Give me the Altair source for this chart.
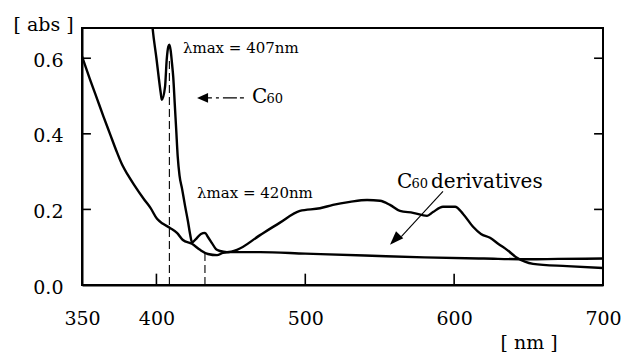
import altair as alt
import pandas as pd

# ---------------- data ----------------
c60_x = [396.5, 397.5, 400.0, 402.9, 403.6, 405.8, 406.9, 408.0, 408.7, 409.5,
         410.5, 411.3, 412.3, 413.3, 414.3, 415.5, 417.2, 419.2, 421.2, 422.6,
         423.9, 427.3, 429.9, 432.6, 434.6, 437.3, 440.0, 442.7, 447.4, 454.1,
         469.6, 483.0, 496.4, 509.9, 518.6, 530.0, 541.5, 550.2, 556.9, 563.6,
         572.4, 581.8, 585.8, 592.5, 600.6, 606.0, 612.7, 618.0, 624.1, 630.0,
         635.5, 642.2, 653.0, 675.8, 700.0]
c60_y = [0.72, 0.677, 0.600, 0.508, 0.490, 0.525, 0.596, 0.631, 0.636, 0.622,
         0.585, 0.550, 0.480, 0.410, 0.340, 0.290, 0.255, 0.210, 0.168, 0.135,
         0.113, 0.125, 0.135, 0.138, 0.127, 0.111, 0.095, 0.090, 0.087, 0.093,
         0.132, 0.165, 0.196, 0.203, 0.212, 0.220, 0.225, 0.223, 0.212, 0.196,
         0.191, 0.183, 0.193, 0.207, 0.207, 0.188, 0.154, 0.135, 0.125, 0.108,
         0.093, 0.072, 0.056, 0.050, 0.045]

deriv_x = [350.0, 355.0, 360.0, 364.5, 368.8, 373.0, 377.0, 381.0, 385.0, 392.0,
           396.0, 400.4, 404.4, 409.1, 413.8, 417.8, 423.9, 429.3, 434.6, 440.7,
           444.7, 449.4, 469.6, 500.0, 540.0, 580.0, 620.0, 650.0, 670.0, 700.0]
deriv_y = [0.605, 0.548, 0.494, 0.445, 0.400, 0.356, 0.318, 0.290, 0.265, 0.225,
           0.204, 0.175, 0.162, 0.151, 0.138, 0.119, 0.109, 0.093, 0.082, 0.079,
           0.085, 0.087, 0.087, 0.083, 0.078, 0.073, 0.070, 0.068, 0.069, 0.070]

x_ticks = [350, 400, 500, 600, 700]
y_ticks = [0.0, 0.2, 0.4, 0.6]
inner_x_ticks = [400, 500, 600]
inner_y_ticks = [0.2, 0.4, 0.6]

peak_x = [408.7, 432.6]
peak_top = [0.60, 0.085]
peak_labels = ["λmax = 407nm", "λmax = 420nm"]
peak_label_x = [417.8, 427.3]
peak_label_y = [0.628, 0.244]

FONT = "DejaVu Serif"
X0, X1 = 350, 700
Y0, Y1 = 0.0, 0.68

xs = alt.Scale(domain=[X0, X1], nice=False, zero=False)
ys = alt.Scale(domain=[Y0, Y1], nice=False, zero=False)

curves = pd.concat([
    pd.DataFrame({"wl": c60_x, "abs": c60_y, "series": "C60"}),
    pd.DataFrame({"wl": deriv_x, "abs": deriv_y, "series": "C60 derivatives"}),
])

lines = alt.Chart(curves).mark_line(
    color="black", strokeWidth=2.4, clip=True, interpolate="monotone"
).encode(
    x=alt.X("wl:Q", scale=xs, axis=alt.Axis(
        values=x_ticks, format="d", ticks=False, grid=False,
        domainColor="black", domainWidth=2,
        labelFont=FONT, labelFontSize=19, labelColor="black",
        labelPadding=33, labelBaseline="middle", labelFlush=False,
        title="[ nm ]", titleFont=FONT, titleFontSize=19, titleFontWeight="normal",
        titleColor="black", titleAlign="left", titleBaseline="middle",
        titleX=418, titleY=57)),
    y=alt.Y("abs:Q", scale=ys, axis=alt.Axis(
        values=y_ticks, format=".1f", ticks=False, grid=False,
        domainColor="black", domainWidth=2,
        labelFont=FONT, labelFontSize=19, labelColor="black",
        labelPadding=19, labelBaseline="middle", labelFlush=False, labelOffset=2,
        title="[ abs ]", titleFont=FONT, titleFontSize=19, titleFontWeight="normal",
        titleColor="black", titleAngle=0, titleAlign="left", titleBaseline="middle",
        titleX=-69, titleY=-4)),
    detail="series:N",
)

# inward ticks
tick_rows = []
for v in inner_x_ticks:
    tick_rows.append({"x": v, "x2": v, "y": Y0, "y2": Y0 + 0.03})
for v in inner_y_ticks:
    tick_rows.append({"x": X0, "x2": X0 + 6, "y": v, "y2": v})
    tick_rows.append({"x": X1 - 6, "x2": X1, "y": v, "y2": v})
ticks = alt.Chart(pd.DataFrame(tick_rows)).mark_rule(color="black", strokeWidth=1.6).encode(
    x=alt.X("x:Q", scale=xs), x2="x2:Q", y=alt.Y("y:Q", scale=ys), y2="y2:Q")

# dashed peak markers
peaks = alt.Chart(pd.DataFrame({"x": peak_x, "top": peak_top, "bot": [0.0, 0.0]})).mark_rule(
    color="black", strokeWidth=1.1, strokeDash=[8, 4]
).encode(x=alt.X("x:Q", scale=xs), y=alt.Y("bot:Q", scale=ys), y2="top:Q")

peak_text = alt.Chart(pd.DataFrame({"x": peak_label_x, "y": peak_label_y, "t": peak_labels})).mark_text(
    font=FONT, fontSize=15, align="left", baseline="middle", color="black"
).encode(x=alt.X("x:Q", scale=xs), y=alt.Y("y:Q", scale=ys), text="t:N")

# C60 label with arrow
c60_arrow_line = alt.Chart(pd.DataFrame({"x": [434.6], "x2": [460.2], "y": [0.495]})).mark_rule(
    color="black", strokeWidth=1.2, strokeDash=[4, 4, 3, 4, 14, 3]
).encode(x=alt.X("x:Q", scale=xs), x2="x2:Q", y=alt.Y("y:Q", scale=ys))
c60_head = alt.Chart(pd.DataFrame({"x": [431.4], "y": [0.495]})).mark_point(
    shape="M0,-1L0.8,0.8L-0.8,0.8Z", size=150, filled=True, color="black", opacity=1, angle=270
).encode(x=alt.X("x:Q", scale=xs), y=alt.Y("y:Q", scale=ys))
c60_C = alt.Chart(pd.DataFrame({"x": [464.2], "y": [0.482], "t": ["C"]})).mark_text(
    font=FONT, fontSize=20, align="left", baseline="alphabetic", color="black"
).encode(x=alt.X("x:Q", scale=xs), y=alt.Y("y:Q", scale=ys), text="t:N")
c60_sub = alt.Chart(pd.DataFrame({"x": [474.0], "y": [0.482], "t": ["60"]})).mark_text(
    font=FONT, fontSize=13, align="left", baseline="alphabetic", color="black"
).encode(x=alt.X("x:Q", scale=xs), y=alt.Y("y:Q", scale=ys), text="t:N")

# C60 derivatives label with arrow
d_C = alt.Chart(pd.DataFrame({"x": [561.6], "y": [0.257], "t": ["C"]})).mark_text(
    font=FONT, fontSize=20, align="left", baseline="alphabetic", color="black"
).encode(x=alt.X("x:Q", scale=xs), y=alt.Y("y:Q", scale=ys), text="t:N")
d_sub = alt.Chart(pd.DataFrame({"x": [571.4], "y": [0.257], "t": ["60"]})).mark_text(
    font=FONT, fontSize=13, align="left", baseline="alphabetic", color="black"
).encode(x=alt.X("x:Q", scale=xs), y=alt.Y("y:Q", scale=ys), text="t:N")
d_word = alt.Chart(pd.DataFrame({"x": [584.5], "y": [0.257], "t": ["derivatives"]})).mark_text(
    font=FONT, fontSize=20, align="left", baseline="alphabetic", color="black"
).encode(x=alt.X("x:Q", scale=xs), y=alt.Y("y:Q", scale=ys), text="t:N")
d_line = alt.Chart(pd.DataFrame({"x": [592.5], "x2": [564.5], "y": [0.248], "y2": [0.128]})).mark_rule(
    color="black", strokeWidth=1.1
).encode(x=alt.X("x:Q", scale=xs), x2="x2:Q", y=alt.Y("y:Q", scale=ys), y2="y2:Q")
d_head = alt.Chart(pd.DataFrame({"x": [560.5], "y": [0.121]})).mark_point(
    shape="M0,-1L0.65,0.8L-0.65,0.8Z", size=240, filled=True, color="black", opacity=1, angle=224
).encode(x=alt.X("x:Q", scale=xs), y=alt.Y("y:Q", scale=ys))

chart = alt.layer(
    lines, ticks, peaks, peak_text, c60_arrow_line, c60_head, c60_C, c60_sub,
    d_C, d_sub, d_word, d_line, d_head
).properties(
    width=521, height=257,
    autosize=alt.AutoSizeParams(type="none"),
    padding={"left": 82, "top": 28, "right": 21, "bottom": 69},
    background="white",
).configure_view(stroke="black", strokeWidth=2)

chart.save("out.html", embed_options={"renderer": "svg", "actions": False})
